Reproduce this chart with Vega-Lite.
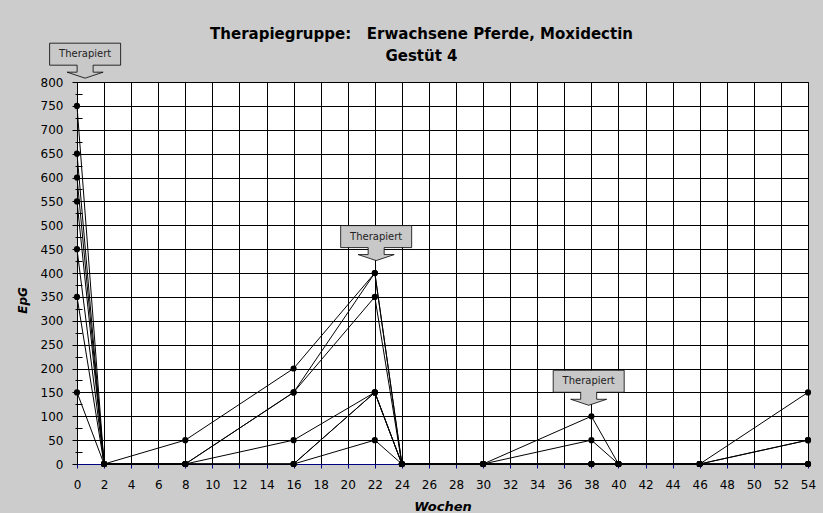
{
  "$schema": "https://vega.github.io/schema/vega-lite/v6.json",
  "width": 731,
  "height": 382,
  "autosize": {"type": "none"},
  "padding": {"left": 77, "top": 82, "right": 15, "bottom": 49},
  "background": "#cccccc",
  "title": {
    "text": ["Therapiegruppe:\u00a0\u00a0\u00a0Erwachsene Pferde, Moxidectin", "Gestüt 4"],
    "frame": "group",
    "anchor": "middle",
    "dx": -21,
    "offset": -22,
    "font": "DejaVu Sans",
    "fontSize": 15,
    "fontWeight": "bold",
    "color": "#000000",
    "lineHeight": 22
  },
  "config": {
    "view": {"stroke": "#000000", "strokeWidth": 1, "fill": "#ffffff"},
    "font": "DejaVu Sans"
  },
  "datasets": {
    "epg": [
      {"Pferd": "P1", "Woche": 0, "EpG": 750}, {"Pferd": "P1", "Woche": 2, "EpG": 0}, {"Pferd": "P1", "Woche": 8, "EpG": 0}, {"Pferd": "P1", "Woche": 16, "EpG": 150}, {"Pferd": "P1", "Woche": 22, "EpG": 400}, {"Pferd": "P1", "Woche": 24, "EpG": 0}, {"Pferd": "P1", "Woche": 30, "EpG": 0}, {"Pferd": "P1", "Woche": 38, "EpG": 0}, {"Pferd": "P1", "Woche": 40, "EpG": 0}, {"Pferd": "P1", "Woche": 46, "EpG": 0}, {"Pferd": "P1", "Woche": 54, "EpG": 0},
      {"Pferd": "P2", "Woche": 0, "EpG": 650}, {"Pferd": "P2", "Woche": 2, "EpG": 0}, {"Pferd": "P2", "Woche": 8, "EpG": 50}, {"Pferd": "P2", "Woche": 16, "EpG": 200}, {"Pferd": "P2", "Woche": 22, "EpG": 400}, {"Pferd": "P2", "Woche": 24, "EpG": 0}, {"Pferd": "P2", "Woche": 30, "EpG": 0}, {"Pferd": "P2", "Woche": 38, "EpG": 100}, {"Pferd": "P2", "Woche": 40, "EpG": 0}, {"Pferd": "P2", "Woche": 46, "EpG": 0}, {"Pferd": "P2", "Woche": 54, "EpG": 150},
      {"Pferd": "P3", "Woche": 0, "EpG": 600}, {"Pferd": "P3", "Woche": 2, "EpG": 0}, {"Pferd": "P3", "Woche": 8, "EpG": 0}, {"Pferd": "P3", "Woche": 16, "EpG": 150}, {"Pferd": "P3", "Woche": 22, "EpG": 350}, {"Pferd": "P3", "Woche": 24, "EpG": 0}, {"Pferd": "P3", "Woche": 30, "EpG": 0}, {"Pferd": "P3", "Woche": 38, "EpG": 0}, {"Pferd": "P3", "Woche": 40, "EpG": 0}, {"Pferd": "P3", "Woche": 46, "EpG": 0}, {"Pferd": "P3", "Woche": 54, "EpG": 50},
      {"Pferd": "P4", "Woche": 0, "EpG": 550}, {"Pferd": "P4", "Woche": 2, "EpG": 0}, {"Pferd": "P4", "Woche": 8, "EpG": 0}, {"Pferd": "P4", "Woche": 16, "EpG": 50}, {"Pferd": "P4", "Woche": 22, "EpG": 150}, {"Pferd": "P4", "Woche": 24, "EpG": 0}, {"Pferd": "P4", "Woche": 30, "EpG": 0}, {"Pferd": "P4", "Woche": 38, "EpG": 50}, {"Pferd": "P4", "Woche": 40, "EpG": 0}, {"Pferd": "P4", "Woche": 46, "EpG": 0}, {"Pferd": "P4", "Woche": 54, "EpG": 0},
      {"Pferd": "P5", "Woche": 0, "EpG": 450}, {"Pferd": "P5", "Woche": 2, "EpG": 0}, {"Pferd": "P5", "Woche": 8, "EpG": 0}, {"Pferd": "P5", "Woche": 16, "EpG": 0}, {"Pferd": "P5", "Woche": 22, "EpG": 150}, {"Pferd": "P5", "Woche": 24, "EpG": 0}, {"Pferd": "P5", "Woche": 30, "EpG": 0}, {"Pferd": "P5", "Woche": 38, "EpG": 0}, {"Pferd": "P5", "Woche": 40, "EpG": 0}, {"Pferd": "P5", "Woche": 46, "EpG": 0}, {"Pferd": "P5", "Woche": 54, "EpG": 50},
      {"Pferd": "P6", "Woche": 0, "EpG": 350}, {"Pferd": "P6", "Woche": 2, "EpG": 0}, {"Pferd": "P6", "Woche": 8, "EpG": 0}, {"Pferd": "P6", "Woche": 16, "EpG": 0}, {"Pferd": "P6", "Woche": 22, "EpG": 150}, {"Pferd": "P6", "Woche": 24, "EpG": 0}, {"Pferd": "P6", "Woche": 30, "EpG": 0}, {"Pferd": "P6", "Woche": 38, "EpG": 0}, {"Pferd": "P6", "Woche": 40, "EpG": 0}, {"Pferd": "P6", "Woche": 46, "EpG": 0}, {"Pferd": "P6", "Woche": 54, "EpG": 0},
      {"Pferd": "P7", "Woche": 0, "EpG": 150}, {"Pferd": "P7", "Woche": 2, "EpG": 0}, {"Pferd": "P7", "Woche": 8, "EpG": 0}, {"Pferd": "P7", "Woche": 16, "EpG": 0}, {"Pferd": "P7", "Woche": 22, "EpG": 50}, {"Pferd": "P7", "Woche": 24, "EpG": 0}, {"Pferd": "P7", "Woche": 30, "EpG": 0}, {"Pferd": "P7", "Woche": 38, "EpG": 0}, {"Pferd": "P7", "Woche": 40, "EpG": 0}, {"Pferd": "P7", "Woche": 46, "EpG": 0}, {"Pferd": "P7", "Woche": 54, "EpG": 0}
    ],
    "callouts": [
      {"Woche": 0.6, "EpG": 808, "label": "Therapiert"},
      {"Woche": 22.1, "EpG": 426, "label": "Therapiert"},
      {"Woche": 37.8, "EpG": 123, "label": "Therapiert"}
    ]
  },
  "encoding": {
    "x": {
      "field": "Woche", "type": "quantitative",
      "scale": {"domain": [0, 54], "nice": false, "zero": false},
      "axis": {
        "values": [0,2,4,6,8,10,12,14,16,18,20,22,24,26,28,30,32,34,36,38,40,42,44,46,48,50,52,54],
        "title": "Wochen",
        "grid": true, "gridColor": "#000000", "gridOpacity": 1, "gridWidth": 1,
        "domainColor": "#000080", "domainWidth": 1,
        "tickColor": "#000080", "tickSize": 4, "tickWidth": 1,
        "labelFont": "DejaVu Sans", "labelFontSize": 12, "labelColor": "#000000",
        "labelPadding": 11.5, "labelFlush": false, "labelOverlap": false,
        "titleFont": "DejaVu Sans", "titleFontSize": 13, "titleFontWeight": "bold", "titleFontStyle": "italic",
        "titleColor": "#000000", "titleY": 46, "titleBaseline": "alphabetic"
      }
    }
  },
  "resolve": {"axis": {"y": "independent"}},
  "layer": [
    {
      "data": {"name": "epg"},
      "mark": {"type": "line", "color": "#000000", "strokeWidth": 1},
      "encoding": {
        "y": {
          "field": "EpG", "type": "quantitative",
          "scale": {"domain": [0, 800], "nice": false},
          "axis": {
            "orient": "left",
            "values": [0,50,100,150,200,250,300,350,400,450,500,550,600,650,700,750,800],
            "title": "EpG",
            "grid": true,
            "gridColor": {"condition": {"test": "datum.value === 0", "value": "transparent"}, "value": "#000000"},
            "gridOpacity": 1, "gridWidth": 1,
            "domainColor": "#000000", "domainWidth": 1,
            "tickColor": "#000000", "tickSize": 5, "tickWidth": 1,
            "labelFont": "DejaVu Sans", "labelFontSize": 12, "labelColor": "#000000",
            "labelPadding": 9, "labelFlush": false, "labelOverlap": false,
            "titleFont": "DejaVu Sans", "titleFontSize": 12, "titleFontWeight": "bold", "titleFontStyle": "italic",
            "titleColor": "#000000", "titleAngle": 270, "titleX": -55, "titleY": 218,
            "titleAlign": "center", "titleBaseline": "middle"
          }
        },
        "detail": {"field": "Pferd", "type": "nominal"},
        "order": {"field": "Woche", "type": "quantitative"}
      }
    },
    {
      "data": {"name": "epg"},
      "mark": {"type": "circle", "color": "#000000", "size": 38, "opacity": 1},
      "encoding": {
        "y": {
          "field": "EpG", "type": "quantitative",
          "scale": {"domain": [0, 800], "nice": false},
          "axis": {
            "orient": "left",
            "values": [25,75,125,175,225,275,325,375,425,475,525,575,625,675,725,775],
            "labels": false, "domain": false, "grid": false, "title": null,
            "ticks": true, "tickColor": "#000000", "tickSize": 7, "tickWidth": 1, "offset": -5
          }
        }
      }
    },
    {
      "data": {"name": "callouts"},
      "mark": {
        "type": "point",
        "shape": "M0,0L-1.8,-0.6L-0.8,-0.6L-0.8,-1.3L-3.55,-1.3L-3.55,-3.5L3.55,-3.5L3.55,-1.3L0.8,-1.3L0.8,-0.6L1.8,-0.6Z",
        "size": 400,
        "filled": true,
        "fill": "#c8c8c8",
        "stroke": "#000000",
        "strokeWidth": 0.8,
        "opacity": 1,
        "fillOpacity": 1
      },
      "encoding": {
        "y": {"field": "EpG", "type": "quantitative", "scale": {"domain": [0, 800], "nice": false}, "axis": null}
      }
    },
    {
      "data": {"name": "callouts"},
      "mark": {"type": "text", "dy": -24, "font": "DejaVu Sans", "fontSize": 10, "color": "#222222", "align": "center", "baseline": "middle"},
      "encoding": {
        "y": {"field": "EpG", "type": "quantitative", "scale": {"domain": [0, 800], "nice": false}, "axis": null},
        "text": {"field": "label"}
      }
    }
  ]
}
